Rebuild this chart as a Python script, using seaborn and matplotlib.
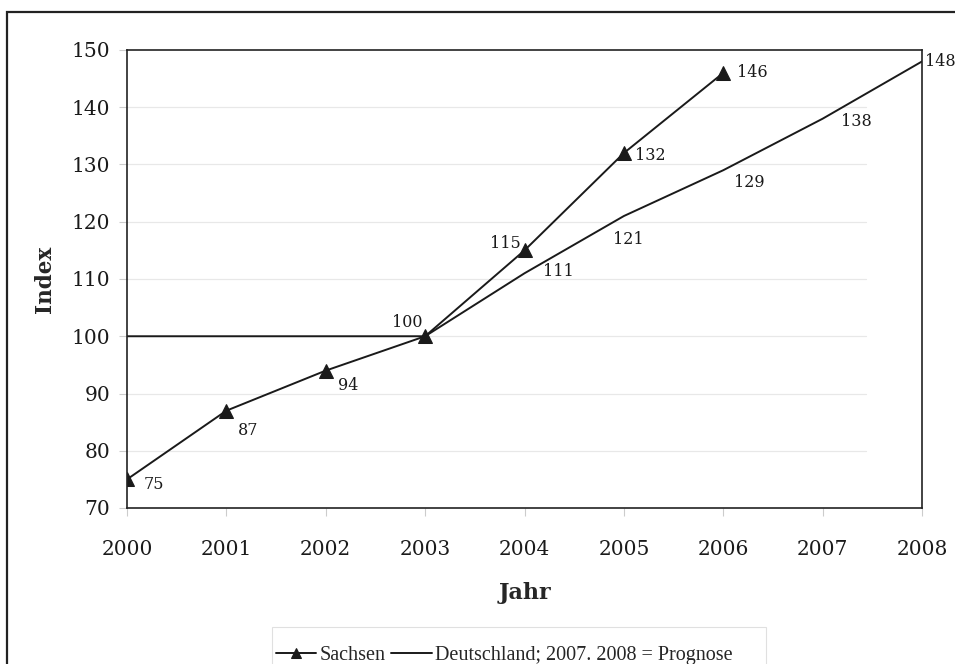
import matplotlib
matplotlib.use("Agg")
import matplotlib.pyplot as plt
from matplotlib.patches import Rectangle
import seaborn as sns
import pandas as pd

# Index values (2003 = 100)
years = [2000, 2001, 2002, 2003, 2004, 2005, 2006, 2007, 2008]
sachsen_years = [2000, 2001, 2002, 2003, 2004, 2005, 2006]
sachsen = [75, 87, 94, 100, 115, 132, 146]
deutschland = [100, 100, 100, 100, 111, 121, 129, 138, 148]
y_ticks = [70, 80, 90, 100, 110, 120, 130, 140, 150]

sachsen_name = "Sachsen"
deutschland_name = "Deutschland; 2007. 2008 = Prognose"

df_s = pd.DataFrame({"Jahr": sachsen_years, "Index": sachsen})
df_d = pd.DataFrame({"Jahr": years, "Index": deutschland})

sns.set_theme(style="white")
plt.rcParams["font.family"] = ["DejaVu Serif"]

W, H = 955, 664
fig = plt.figure(figsize=(W / 100, H / 100), dpi=100)
ax = fig.add_axes([127 / W, 1 - 508 / H, (922 - 127) / W, (508 - 50) / H])

# faint horizontal gridlines
for v in y_ticks[1:-1]:
    ax.axhline(v, xmin=0, xmax=0.93, color="#e8e8e8", lw=0.9, zorder=0)

sns.lineplot(data=df_s, x="Jahr", y="Index", ax=ax, color="#1a1a1a", lw=1.4,
             marker="^", markersize=10, markeredgecolor="#1a1a1a", label=sachsen_name)
sns.lineplot(data=df_d, x="Jahr", y="Index", ax=ax, color="#1a1a1a", lw=1.4,
             label=deutschland_name)

ax.set_xlim(2000, 2008)
ax.set_ylim(70, 150)
ax.set_xticks(years)
ax.set_yticks(y_ticks)
ax.tick_params(axis="both", which="both", length=6, width=0.8, color="#cccccc",
               labelsize=14.5, labelcolor="#1a1a1a", pad=6, left=True, bottom=True)
ax.tick_params(axis="x", pad=17)
for s in ax.spines.values():
    s.set_color("#222222")
    s.set_linewidth(1.2)

ax.set_xlabel("Jahr", fontsize=16, fontweight="bold")
ax.set_ylabel("Index", fontsize=15.5, fontweight="bold")
ax.xaxis.set_label_coords(0.5, (508 - 593) / 458)
ax.xaxis.label.set_verticalalignment("center")
ax.yaxis.set_label_coords((45 - 127) / 795, 0.5)
ax.yaxis.label.set_verticalalignment("center")

# value labels, offsets in points
lab_kw = dict(textcoords="offset points", fontsize=11.5, color="#1a1a1a",
              va="center", ha="left", annotation_clip=False)
s_off = [(12, -4), (8, -14), (9, -11), (-24, 10), (-25, 5), (8, -2), (10, 0)]
for x, y, off in zip(sachsen_years, sachsen, s_off):
    ax.annotate(f"{y}", (x, y), xytext=off, **lab_kw)

d_off = {2004: (13, 1.5), 2005: (-8, -17), 2006: (8, -8.5), 2007: (13, -2), 2008: (2, 0)}
for x, y in zip(years, deutschland):
    if x in d_off:
        ax.annotate(f"{y}", (x, y), xytext=d_off[x], **lab_kw)

# legend entries, with a separate light box drawn behind them
leg = ax.legend(loc="center left", bbox_to_anchor=(276 / W, 1 - 655 / H), bbox_transform=fig.transFigure,
                ncol=2, frameon=False, handlelength=2.0, handletextpad=0.15,
                columnspacing=0.3, borderpad=0, borderaxespad=0, markerscale=0.65,
                prop={"family": "Liberation Serif", "size": 14.5})
fig.patches.append(Rectangle((272 / W, -0.05), (766 - 272) / W, 1 - 627 / H + 0.05,
                             transform=fig.transFigure, fill=False,
                             edgecolor="#e0e0e0", lw=0.8, zorder=1))

# outer frame around the chart
fig.patches.append(Rectangle((7 / W, -0.05), 1.1, 1 - 12 / H + 0.05,
                             transform=fig.transFigure, fill=False,
                             edgecolor="#222222", lw=1.6, zorder=10))

fig.savefig("out.png", dpi=100)
